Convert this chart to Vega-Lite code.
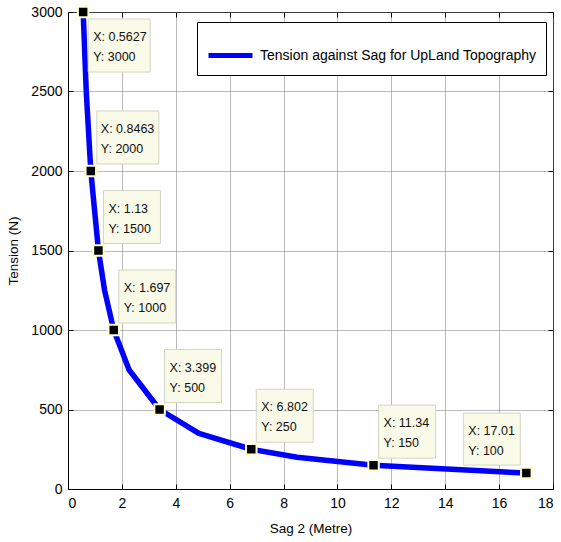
{
  "$schema": "https://vega.github.io/schema/vega-lite/v6.json",
  "width": 485,
  "height": 477,
  "autosize": "none",
  "padding": {"left": 68, "top": 12, "right": 8, "bottom": 53},
  "background": "white",
  "config": {
    "view": {"stroke": "black", "strokeWidth": 1},
    "axis": {
      "labelFont": "Liberation Sans", "labelFontSize": 14, "labelColor": "black",
      "titleFont": "Liberation Sans", "titleFontSize": 13.5, "titleFontWeight": "normal", "titleColor": "black",
      "domainColor": "black", "tickColor": "black", "tickSize": -5
    }
  },
  "datasets": {
    "curve": [
      {"sag": 0.5627, "tension": 3000},
      {"sag": 0.677, "tension": 2500},
      {"sag": 0.8463, "tension": 2000},
      {"sag": 1.13, "tension": 1500},
      {"sag": 1.357, "tension": 1250},
      {"sag": 1.697, "tension": 1000},
      {"sag": 2.265, "tension": 750},
      {"sag": 3.399, "tension": 500},
      {"sag": 4.857, "tension": 350},
      {"sag": 6.802, "tension": 250},
      {"sag": 8.503, "tension": 200},
      {"sag": 11.34, "tension": 150},
      {"sag": 17.01, "tension": 100}
    ],
    "tips": [
      {"sag": 0.5627, "tension": 3000, "label": ["X: 0.5627", "Y: 3000"]},
      {"sag": 0.8463, "tension": 2000, "label": ["X: 0.8463", "Y: 2000"]},
      {"sag": 1.13, "tension": 1500, "label": ["X: 1.13", "Y: 1500"]},
      {"sag": 1.697, "tension": 1000, "label": ["X: 1.697", "Y: 1000"]},
      {"sag": 3.399, "tension": 500, "label": ["X: 3.399", "Y: 500"]},
      {"sag": 6.802, "tension": 250, "label": ["X: 6.802", "Y: 250"]},
      {"sag": 11.34, "tension": 150, "label": ["X: 11.34", "Y: 150"]},
      {"sag": 17.01, "tension": 100, "label": ["X: 17.01", "Y: 100"]}
    ]
  },
  "resolve": {"axis": {"x": "independent", "y": "independent"}},
  "layer": [
    {
      "data": {"name": "curve"},
      "mark": {"type": "line", "strokeWidth": 5.5, "strokeCap": "butt", "strokeJoin": "round"},
      "encoding": {
        "x": {"field": "sag", "type": "quantitative", "scale": {"domain": [0, 18], "nice": false},
              "axis": {"title": "Sag 2 (Metre)", "values": [0,2,4,6,8,10,12,14,16,18], "format": "d", "grid": true, "gridDash": [1, 1], "gridColor": "#777", "labelPadding": 12, "titlePadding": 11}},
        "y": {"field": "tension", "type": "quantitative", "scale": {"domain": [0, 3000], "nice": false},
              "axis": {"title": "Tension (N)", "values": [0,500,1000,1500,2000,2500,3000], "format": "d", "grid": true, "gridDash": [1, 1], "gridColor": "#777", "labelPadding": 11, "titlePadding": 10}},
        "color": {"datum": "Tension against Sag for UpLand Topography", "type": "nominal",
                  "scale": {"range": ["#0000ff"]},
                  "legend": {"orient": "none", "legendX": 129, "legendY": 10, "title": null,
                             "strokeColor": "black", "fillColor": "white", "padding": 9,
                             "symbolType": "stroke", "symbolSize": 1936, "symbolStrokeWidth": 5,
                             "labelFont": "Liberation Sans", "labelFontSize": 14, "labelColor": "black",
                             "labelOffset": 5, "cornerRadius": 0, "labelLimit": 400}}
      }
    },
    {
      "data": {"name": "tips"},
      "mark": {"type": "rect", "fill": "#fafae8", "stroke": "#d4d4c4", "strokeWidth": 1, "xOffset": 5, "x2Offset": 67, "yOffset": 7, "y2Offset": 60},
      "transform": [{"filter": "datum.tension == 3000"}],
      "encoding": {
        "x": {"field": "sag", "type": "quantitative", "axis": null},
        "x2": {"field": "sag"},
        "y": {"field": "tension", "type": "quantitative", "axis": null},
        "y2": {"field": "tension"}
      }
    },
    {
      "data": {"name": "tips"},
      "mark": {"type": "rect", "fill": "#fafae8", "stroke": "#d4d4c4", "strokeWidth": 1, "xOffset": 6, "x2Offset": 68, "yOffset": -60, "y2Offset": -7},
      "transform": [{"filter": "datum.tension == 2000"}],
      "encoding": {
        "x": {"field": "sag", "type": "quantitative", "axis": null},
        "x2": {"field": "sag"},
        "y": {"field": "tension", "type": "quantitative", "axis": null},
        "y2": {"field": "tension"}
      }
    },
    {
      "data": {"name": "tips"},
      "mark": {"type": "rect", "fill": "#fafae8", "stroke": "#d4d4c4", "strokeWidth": 1, "xOffset": 5, "x2Offset": 62, "yOffset": -60, "y2Offset": -7},
      "transform": [{"filter": "datum.tension < 2000 && datum.tension > 100"}],
      "encoding": {
        "x": {"field": "sag", "type": "quantitative", "axis": null},
        "x2": {"field": "sag"},
        "y": {"field": "tension", "type": "quantitative", "axis": null},
        "y2": {"field": "tension"}
      }
    },
    {
      "data": {"name": "tips"},
      "mark": {"type": "rect", "fill": "#fafae8", "stroke": "#d4d4c4", "strokeWidth": 1, "xOffset": -63, "x2Offset": -6, "yOffset": -60, "y2Offset": -8},
      "transform": [{"filter": "datum.tension == 100"}],
      "encoding": {
        "x": {"field": "sag", "type": "quantitative", "axis": null},
        "x2": {"field": "sag"},
        "y": {"field": "tension", "type": "quantitative", "axis": null},
        "y2": {"field": "tension"}
      }
    },
    {
      "data": {"name": "tips"},
      "mark": {"type": "text", "align": "left", "baseline": "top", "font": "Liberation Sans", "fontSize": 12.5, "lineHeight": 20, "color": "#111", "dx": 10, "dy": 19},
      "transform": [{"filter": "datum.tension == 3000"}],
      "encoding": {
        "x": {"field": "sag", "type": "quantitative", "axis": null},
        "y": {"field": "tension", "type": "quantitative", "axis": null},
        "text": {"field": "label"}
      }
    },
    {
      "data": {"name": "tips"},
      "mark": {"type": "text", "align": "left", "baseline": "top", "font": "Liberation Sans", "fontSize": 12.5, "lineHeight": 20, "color": "#111", "dx": 10, "dy": -48},
      "transform": [{"filter": "datum.tension < 3000 && datum.tension > 100"}],
      "encoding": {
        "x": {"field": "sag", "type": "quantitative", "axis": null},
        "y": {"field": "tension", "type": "quantitative", "axis": null},
        "text": {"field": "label"}
      }
    },
    {
      "data": {"name": "tips"},
      "mark": {"type": "text", "align": "left", "baseline": "top", "font": "Liberation Sans", "fontSize": 12.5, "lineHeight": 20, "color": "#111", "dx": -58, "dy": -48},
      "transform": [{"filter": "datum.tension == 100"}],
      "encoding": {
        "x": {"field": "sag", "type": "quantitative", "axis": null},
        "y": {"field": "tension", "type": "quantitative", "axis": null},
        "text": {"field": "label"}
      }
    },
    {
      "data": {"name": "tips"},
      "mark": {"type": "square", "size": 110, "fill": "black", "opacity": 1, "stroke": "#ffffd0", "strokeWidth": 2},
      "encoding": {
        "x": {"field": "sag", "type": "quantitative",
              "axis": {"orient": "top", "title": null, "labels": false, "domain": false, "grid": false, "values": [0,2,4,6,8,10,12,14,16,18]}},
        "y": {"field": "tension", "type": "quantitative",
              "axis": {"orient": "right", "title": null, "labels": false, "domain": false, "grid": false, "values": [0,500,1000,1500,2000,2500,3000]}}
      }
    }
  ]
}
